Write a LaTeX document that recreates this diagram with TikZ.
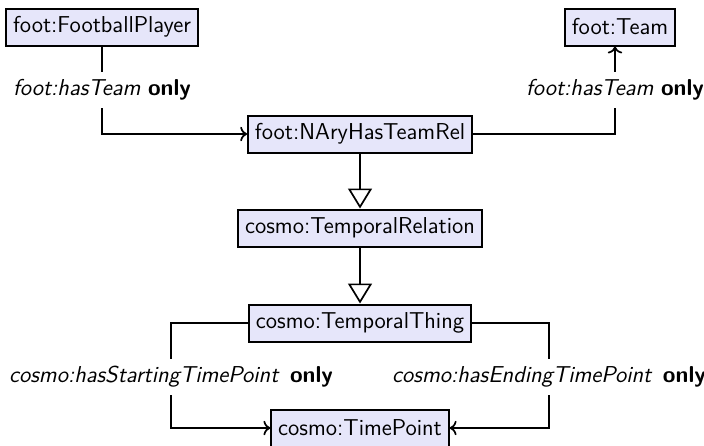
\documentclass[tikz,border=0pt]{standalone}
\usepackage{fontspec}
\usetikzlibrary{arrows.meta}
\definecolor{classfill}{RGB}{230,230,250}
\begin{document}
\begin{tikzpicture}[x=1pt,y=1pt,
  font=\sffamily\fontsize{11.5}{14}\selectfont,
  cls/.style={draw, line width=1pt, fill=classfill, minimum height=18.5pt, inner xsep=3.4pt, inner ysep=0pt},
  rel/.style={minimum height=18pt, inner sep=0pt},
  conn/.style={line width=0.85pt},
  gen/.style={line width=0.85pt, -{Triangle[open, width=12pt, length=10pt, fill=white]}},
]
\useasboundingbox (0,0) rectangle (352,-222.5);

% classes
\node[cls] (fp)     at (51,-13.5)  {foot:FootballPlayer};
\node[cls] (team)   at (310,-13.5) {foot:Team};
\node[cls] (nary)   at (180,-67)   {foot:NAryHasTeamRel};
\node[cls] (trel)   at (180,-114)  {cosmo:TemporalRelation};
\node[cls] (tthing) at (180,-161.5){cosmo:TemporalThing};
\node[cls] (tpoint) at (180,-214)  {cosmo:TimePoint};

% property restrictions
\node[rel] (l1) at (51,-45)     {\textit{foot:hasTeam} \textbf{only}};
\node[rel] (l2) at (307.5,-45)  {\textit{foot:hasTeam} \textbf{only}};
\node[rel] (l3) at (85.5,-188.5){\textit{cosmo:hasStartingTimePoint}\hspace{1.5pt} \textbf{only}};
\node[rel] (l4) at (274.5,-188.5) {\textit{cosmo:hasEndingTimePoint}\hspace{1.5pt} \textbf{only}};

% connectors
\draw[conn] (fp) -- (l1);
\draw[conn,->] (l1) |- (nary);
\draw[conn] (nary) -| (l2);
\draw[conn,->] (l2) -- (l2 |- team.south);
\draw[gen] (nary) -- (trel);
\draw[gen] (trel) -- (tthing);
\draw[conn] (tthing) -| (l3);
\draw[conn,->] (l3) |- (tpoint);
\draw[conn] (tthing) -| (l4);
\draw[conn,->] (l4) |- (tpoint);
\end{tikzpicture}
\end{document}
